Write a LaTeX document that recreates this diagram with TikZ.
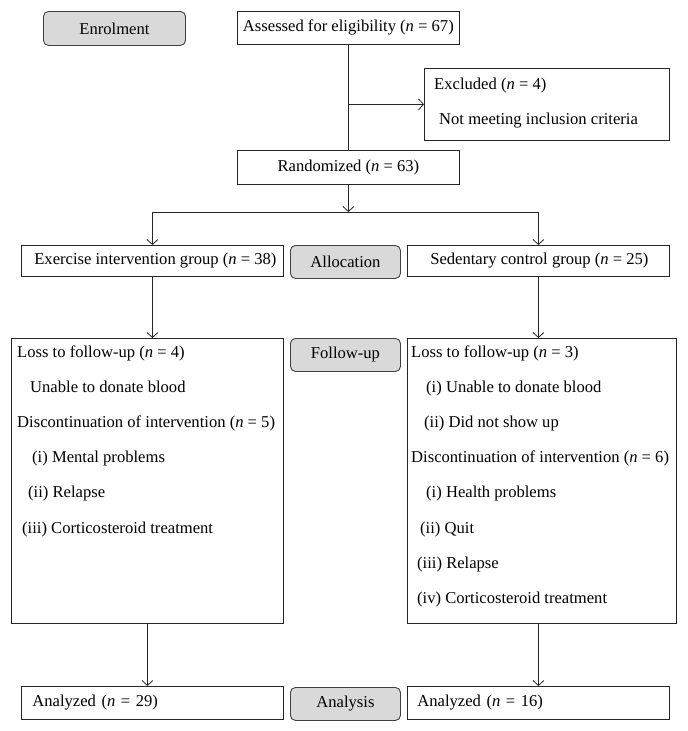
\documentclass[tikz,border=0pt]{standalone}
\usepackage{fontspec}
\setmainfont{Liberation Serif}
\usetikzlibrary{arrows.meta,positioning}

\tikzset{
  stage/.style={draw=black!75,fill=black!15,rounded corners=5pt,line width=0.9pt,
    inner sep=0pt,anchor=north west},
  textline/.style={anchor=base west,inner sep=0pt}
}

\begin{document}
\begin{tikzpicture}[x=1pt,y=-1pt,font=\fontsize{16.6}{19}\selectfont]
    \useasboundingbox (0,0) rectangle (688,731);
    % boxes of the flow
    \begin{scope}[every node/.style={draw=black!85,line width=0.8pt,inner sep=0pt,anchor=north west}]
      \node[minimum width=222,minimum height=33] (assess) at (237,11) {Assessed for eligibility (\textit{n} = 67)};
      \node[minimum width=245,minimum height=72] (excl) at (424,68) {};
      \node[minimum width=222,minimum height=34] (rand) at (237,150) {Randomized (\textit{n} = 63)};
      \node[minimum width=262,minimum height=31] (exer) at (21,245) {\hspace{6pt}Exercise intervention group (\textit{n} = 38)};
      \node[minimum width=262,minimum height=31] (sed) at (407,245) {\hspace{2pt}Sedentary control group (\textit{n} = 25)};
      \node[minimum width=272,minimum height=285] (lossL) at (11,338) {};
      \node[minimum width=269,minimum height=285] (lossR) at (407,338) {};
      \node[text width=240,inner xsep=11,minimum height=33,align=left] (anaL) at (21,686) {Analyzed (\textit{n} = 29)};
      \node[text width=242,inner xsep=10,minimum height=33,align=left] (anaR) at (407,686) {Analyzed (\textit{n} = 16)};
    \end{scope}

    % stage labels
    \node[stage,minimum width=142,minimum height=34] (enrol) at (43,11) {Enrolment};
    \node[stage,minimum width=110,minimum height=33] (alloc) at (290,245) {Allocation};
    \node[stage,minimum width=110,minimum height=33] (follow) at (290,338) {\raisebox{2pt}{Follow-up}};
    \node[stage,minimum width=110,minimum height=33] (analysis) at (290,687) {\raisebox{-4pt}{Analysis}};

    % texts in the boxes
    \node[textline] (ex1) at (434,89) {Excluded (\textit{n} = 4)};
    \node[textline] (ex2) at (439,124) {Not meeting inclusion criteria};
    \foreach \x/\y/\t [count=\i] in {
        17/357/Loss to follow-up (\textit{n} = 4),
        30/392/Unable to donate blood,
        17/427/Discontinuation of intervention (\textit{n} = 5),
        32/462/(i) Mental problems,
        28/497/(ii) Relapse,
        22/533/(iii) Corticosteroid treatment}
      \node[textline] (lt\i) at (\x,\y) {\t};
    \foreach \x/\y/\t [count=\i] in {
        411/357/Loss to follow-up (\textit{n} = 3),
        426/392/(i) Unable to donate blood,
        424/427/(ii) Did not show up,
        411/462/Discontinuation of intervention (\textit{n} = 6),
        426/497/(i) Health problems,
        420/533/(ii) Quit,
        417/568/(iii) Relapse,
        417/603/(iv) Corticosteroid treatment}
      \node[textline] (rt\i) at (\x,\y) {\t};

    % connectors
    \coordinate (split) at (rand.south |- 0,212);
    \coordinate (splitL) at (exer.north |- split);
    \coordinate (splitR) at (sed.north |- split);
    \begin{scope}[>={Straight Barb[length=5pt,width=11pt]},every path/.style={draw=black!85,line width=0.8pt}]
      \draw (assess.south) -- (rand.north);
      \draw[->] (assess.south |- excl.west) -- (excl.west);
      \draw[->] (rand.south) -- (split);
      \draw (splitL) -- (splitR);
      \draw[->] (splitL) -- (exer.north);
      \draw[->] (splitR) -- (sed.north);
      \draw[->] (exer.south) -- (exer.south |- lossL.north);
      \draw[->] (sed.south) -- (sed.south |- lossR.north);
      \draw[->] (lossL.south) -- (lossL.south |- anaL.north);
      \draw[->] (sed.south |- lossR.south) -- (sed.south |- anaR.north);
    \end{scope}
\end{tikzpicture}
\end{document}
